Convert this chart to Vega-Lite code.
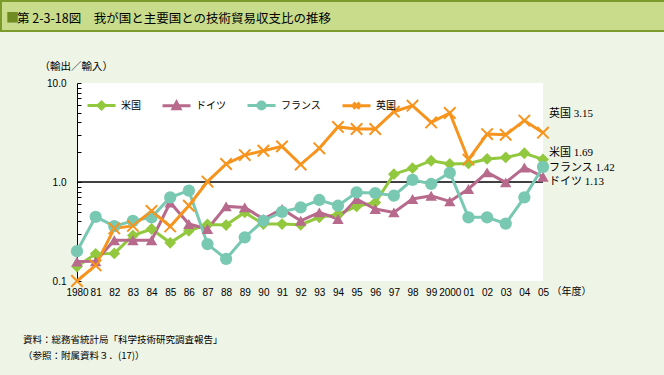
{
  "$schema": "https://vega.github.io/schema/vega-lite/v6.json",
  "background": "#EEF4E6",
  "padding": {"left": 0, "top": 0, "right": 0, "bottom": 30},
  "spacing": 29,
  "config": {"view": {"stroke": null}, "font": "Noto Sans CJK JP", "concat": {"spacing": 0}, "axisX": {"labelOverlap": false, "labelFlush": false}},
  "datasets": {
    "d": [
      {"year": 1980, "country": "米国", "value": 0.14}, {"year": 1980, "country": "ドイツ", "value": 0.157}, {"year": 1980, "country": "フランス", "value": 0.2}, {"year": 1980, "country": "英国", "value": 0.1},
      {"year": 1981, "country": "米国", "value": 0.188}, {"year": 1981, "country": "ドイツ", "value": 0.158}, {"year": 1981, "country": "フランス", "value": 0.445}, {"year": 1981, "country": "英国", "value": 0.144},
      {"year": 1982, "country": "米国", "value": 0.19}, {"year": 1982, "country": "ドイツ", "value": 0.258}, {"year": 1982, "country": "フランス", "value": 0.358}, {"year": 1982, "country": "英国", "value": 0.34},
      {"year": 1983, "country": "米国", "value": 0.288}, {"year": 1983, "country": "ドイツ", "value": 0.258}, {"year": 1983, "country": "フランス", "value": 0.405}, {"year": 1983, "country": "英国", "value": 0.36},
      {"year": 1984, "country": "米国", "value": 0.335}, {"year": 1984, "country": "ドイツ", "value": 0.258}, {"year": 1984, "country": "フランス", "value": 0.44}, {"year": 1984, "country": "英国", "value": 0.51},
      {"year": 1985, "country": "米国", "value": 0.243}, {"year": 1985, "country": "ドイツ", "value": 0.62}, {"year": 1985, "country": "フランス", "value": 0.70}, {"year": 1985, "country": "英国", "value": 0.356},
      {"year": 1986, "country": "米国", "value": 0.322}, {"year": 1986, "country": "ドイツ", "value": 0.376}, {"year": 1986, "country": "フランス", "value": 0.817}, {"year": 1986, "country": "英国", "value": 0.576},
      {"year": 1987, "country": "米国", "value": 0.372}, {"year": 1987, "country": "ドイツ", "value": 0.335}, {"year": 1987, "country": "フランス", "value": 0.236}, {"year": 1987, "country": "英国", "value": 1.01},
      {"year": 1988, "country": "米国", "value": 0.367}, {"year": 1988, "country": "ドイツ", "value": 0.567}, {"year": 1988, "country": "フランス", "value": 0.167}, {"year": 1988, "country": "英国", "value": 1.52},
      {"year": 1989, "country": "米国", "value": 0.493}, {"year": 1989, "country": "ドイツ", "value": 0.554}, {"year": 1989, "country": "フランス", "value": 0.276}, {"year": 1989, "country": "英国", "value": 1.87},
      {"year": 1990, "country": "米国", "value": 0.376}, {"year": 1990, "country": "ドイツ", "value": 0.423}, {"year": 1990, "country": "フランス", "value": 0.406}, {"year": 1990, "country": "英国", "value": 2.07},
      {"year": 1991, "country": "米国", "value": 0.376}, {"year": 1991, "country": "ドイツ", "value": 0.533}, {"year": 1991, "country": "フランス", "value": 0.5}, {"year": 1991, "country": "英国", "value": 2.29},
      {"year": 1992, "country": "米国", "value": 0.37}, {"year": 1992, "country": "ドイツ", "value": 0.406}, {"year": 1992, "country": "フランス", "value": 0.554}, {"year": 1992, "country": "英国", "value": 1.5},
      {"year": 1993, "country": "米国", "value": 0.44}, {"year": 1993, "country": "ドイツ", "value": 0.493}, {"year": 1993, "country": "フランス", "value": 0.658}, {"year": 1993, "country": "英国", "value": 2.19},
      {"year": 1994, "country": "米国", "value": 0.47}, {"year": 1994, "country": "ドイツ", "value": 0.423}, {"year": 1994, "country": "フランス", "value": 0.576}, {"year": 1994, "country": "英国", "value": 3.6},
      {"year": 1995, "country": "米国", "value": 0.567}, {"year": 1995, "country": "ドイツ", "value": 0.673}, {"year": 1995, "country": "フランス", "value": 0.785}, {"year": 1995, "country": "英国", "value": 3.43},
      {"year": 1996, "country": "米国", "value": 0.62}, {"year": 1996, "country": "ドイツ", "value": 0.533}, {"year": 1996, "country": "フランス", "value": 0.774}, {"year": 1996, "country": "英国", "value": 3.43},
      {"year": 1997, "country": "米国", "value": 1.2}, {"year": 1997, "country": "ドイツ", "value": 0.493}, {"year": 1997, "country": "フランス", "value": 0.727}, {"year": 1997, "country": "英国", "value": 5.13},
      {"year": 1998, "country": "米国", "value": 1.38}, {"year": 1998, "country": "ドイツ", "value": 0.673}, {"year": 1998, "country": "フランス", "value": 1.05}, {"year": 1998, "country": "英国", "value": 5.9},
      {"year": 1999, "country": "米国", "value": 1.64}, {"year": 1999, "country": "ドイツ", "value": 0.727}, {"year": 1999, "country": "フランス", "value": 0.955}, {"year": 1999, "country": "英国", "value": 4.0},
      {"year": 2000, "country": "米国", "value": 1.52}, {"year": 2000, "country": "ドイツ", "value": 0.637}, {"year": 2000, "country": "フランス", "value": 1.24}, {"year": 2000, "country": "英国", "value": 4.98},
      {"year": 2001, "country": "米国", "value": 1.54}, {"year": 2001, "country": "ドイツ", "value": 0.85}, {"year": 2001, "country": "フランス", "value": 0.44}, {"year": 2001, "country": "英国", "value": 1.68},
      {"year": 2002, "country": "米国", "value": 1.71}, {"year": 2002, "country": "ドイツ", "value": 1.25}, {"year": 2002, "country": "フランス", "value": 0.44}, {"year": 2002, "country": "英国", "value": 3.05},
      {"year": 2003, "country": "米国", "value": 1.77}, {"year": 2003, "country": "ドイツ", "value": 0.99}, {"year": 2003, "country": "フランス", "value": 0.38}, {"year": 2003, "country": "英国", "value": 3.0},
      {"year": 2004, "country": "米国", "value": 1.95}, {"year": 2004, "country": "ドイツ", "value": 1.4}, {"year": 2004, "country": "フランス", "value": 0.7}, {"year": 2004, "country": "英国", "value": 4.17},
      {"year": 2005, "country": "米国", "value": 1.69}, {"year": 2005, "country": "ドイツ", "value": 1.13}, {"year": 2005, "country": "フランス", "value": 1.42}, {"year": 2005, "country": "英国", "value": 3.15}
    ]
  },
  "vconcat": [
    {
      "width": 664,
      "height": 30,
      "view": {"fill": "#C8DC8C", "stroke": "#7C9B2C", "strokeWidth": 2},
      "data": {"values": [{"t": "■"}]},
      "mark": {"type": "text", "align": "left", "baseline": "middle", "dx": -327, "dy": 2, "fontSize": 13, "color": "#6E8C22"},
      "encoding": {"text": {"field": "t"}},
      "title": {"text": "第 2-3-18図　我が国と主要国との技術貿易収支比の推移", "anchor": "start", "frame": "group", "offset": -24, "dx": 16, "fontSize": 12.5, "fontWeight": "normal", "color": "#000000"}
    },
    {
      "hconcat": [
        {"width": 22, "height": 10, "data": {"values": []}, "mark": "point"},
        {
          "width": 466,
          "height": 198,
          "view": {"fill": "#FFFFFF", "stroke": null},
          "data": {"name": "d"},
          "title": {"text": ["資料：総務省統計局「科学技術研究調査報告」", "（参照：附属資料３．(17)）"], "orient": "bottom", "anchor": "start", "frame": "group", "dx": -54, "offset": 38, "fontSize": 9.5, "fontWeight": "normal", "lineHeight": 16, "color": "#000000"},
          "layer": [
            {
              "data": {"values": [{}]},
              "mark": {"type": "rule", "color": "#000000", "strokeWidth": 1.3},
              "encoding": {
                "y": {"datum": 1, "type": "quantitative", "scale": {"type": "log", "domain": [0.1, 10], "nice": false}, "axis": null}
              }
            },
            {
              "mark": {"type": "line", "strokeWidth": 3},
              "encoding": {
                "x": {"field": "year", "type": "quantitative", "scale": {"domain": [1980, 2005], "nice": false, "zero": false},
                  "axis": {"values": [1980, 1981, 1982, 1983, 1984, 1985, 1986, 1987, 1988, 1989, 1990, 1991, 1992, 1993, 1994, 1995, 1996, 1997, 1998, 1999, 2000, 2001, 2002, 2003, 2004, 2005], "labelExpr": "(datum.value == 1980 || datum.value == 2000) ? ('' + datum.value) : ((datum.value % 100 < 10 ? '0' : '') + (datum.value % 100))", "ticks": false, "domain": false, "grid": false, "labelOverlap": false, "labelFlush": false, "labelPadding": 6, "labelFont": "Liberation Sans", "labelFontSize": 10, "labelColor": "#000000", "title": "（年度）", "titleX": 474, "titleY": 10, "titleAlign": "left", "titleBaseline": "middle", "titleFontSize": 10, "titleFontWeight": "normal", "titleColor": "#000000"}},
                "y": {"field": "value", "type": "quantitative", "scale": {"type": "log", "domain": [0.1, 10], "nice": false},
                  "axis": {"orient": "left", "values": [0.1, 0.2, 0.3, 0.4, 0.5, 0.6, 0.7, 0.8, 0.9, 1, 2, 3, 4, 5, 6, 7, 8, 9, 10],
                    "labelExpr": "(datum.value == 0.1 || datum.value == 1 || datum.value == 10) ? format(datum.value, '.1f') : ''",
                    "ticks": true, "tickSize": -4, "tickColor": "#000000", "tickWidth": 1, "domain": true, "domainColor": "#000000", "domainWidth": 1, "grid": false, "labelPadding": 15, "labelFont": "Liberation Sans", "labelFontSize": 10, "labelColor": "#000000", "labelOverlap": false,
                    "title": "（輸出／輸入）", "titleAngle": 0, "titleX": -38, "titleY": -17, "titleAlign": "left", "titleBaseline": "middle", "titleFontSize": 10.5, "titleFontWeight": "normal", "titleColor": "#000000"}},
                "color": {"field": "country", "type": "nominal",
                  "scale": {"domain": ["米国", "ドイツ", "フランス", "英国"], "range": ["#92C83E", "#B76A8C", "#78C8B2", "#F7941E"]},
                  "legend": {"orient": "none", "legendX": 85, "legendY": 89, "direction": "horizontal", "title": null, "labelFontSize": 10, "labelColor": "#000000", "columnPadding": 15, "labelOffset": 4, "symbolSize": 784, "symbolType": "M-1,0L1,0", "symbolStrokeWidth": 3,
                    "encode": {"symbols": {"update": {
                      "shape": {"signal": "datum.value === '米国' ? 'M-1,0L1,0M-0.25,0L0,-0.25L0.25,0L0,0.25Z' : datum.value === 'ドイツ' ? 'M-1,0L1,0M-0.25,0.22L0,-0.25L0.25,0.22Z' : datum.value === 'フランス' ? 'M-1,0L1,0M-0.25,0A0.25,0.25 0 1,0 0.25,0A0.25,0.25 0 1,0 -0.25,0Z' : 'M-1,0L1,0M-0.22,-0.22L0.22,0.22M-0.22,0.22L0.22,-0.22'"},
                      "fill": {"signal": "scale('color', datum.value)"},
                      "stroke": {"signal": "scale('color', datum.value)"},
                      "strokeWidth": {"value": 3},
                      "opacity": {"value": 1}
                    }}}}
                }
              }
            },
            {
              "transform": [{"filter": "datum.country == '米国'"}],
              "mark": {"type": "point", "shape": "diamond", "filled": true, "size": 140, "opacity": 1},
              "encoding": {
                "x": {"field": "year", "type": "quantitative", "scale": {"domain": [1980, 2005], "nice": false, "zero": false},
                  "axis": {"values": [1980, 1981, 1982, 1983, 1984, 1985, 1986, 1987, 1988, 1989, 1990, 1991, 1992, 1993, 1994, 1995, 1996, 1997, 1998, 1999, 2000, 2001, 2002, 2003, 2004, 2005], "labelExpr": "(datum.value == 1980 || datum.value == 2000) ? ('' + datum.value) : ((datum.value % 100 < 10 ? '0' : '') + (datum.value % 100))", "ticks": false, "domain": false, "grid": false, "labelOverlap": false, "labelFlush": false, "labelPadding": 6, "labelFont": "Liberation Sans", "labelFontSize": 10, "labelColor": "#000000", "title": "（年度）", "titleX": 474, "titleY": 10, "titleAlign": "left", "titleBaseline": "middle", "titleFontSize": 10, "titleFontWeight": "normal", "titleColor": "#000000"}},
                "y": {"field": "value", "type": "quantitative", "axis": null},
                "color": {"field": "country", "type": "nominal", "legend": null}
              }
            },
            {
              "transform": [{"filter": "datum.country == 'ドイツ'"}],
              "mark": {"type": "point", "shape": "triangle-up", "filled": true, "size": 130, "opacity": 1},
              "encoding": {
                "x": {"field": "year", "type": "quantitative", "scale": {"domain": [1980, 2005], "nice": false, "zero": false},
                  "axis": {"values": [1980, 1981, 1982, 1983, 1984, 1985, 1986, 1987, 1988, 1989, 1990, 1991, 1992, 1993, 1994, 1995, 1996, 1997, 1998, 1999, 2000, 2001, 2002, 2003, 2004, 2005], "labelExpr": "(datum.value == 1980 || datum.value == 2000) ? ('' + datum.value) : ((datum.value % 100 < 10 ? '0' : '') + (datum.value % 100))", "ticks": false, "domain": false, "grid": false, "labelOverlap": false, "labelFlush": false, "labelPadding": 6, "labelFont": "Liberation Sans", "labelFontSize": 10, "labelColor": "#000000", "title": "（年度）", "titleX": 474, "titleY": 10, "titleAlign": "left", "titleBaseline": "middle", "titleFontSize": 10, "titleFontWeight": "normal", "titleColor": "#000000"}},
                "y": {"field": "value", "type": "quantitative", "axis": null},
                "color": {"field": "country", "type": "nominal", "legend": null}
              }
            },
            {
              "transform": [{"filter": "datum.country == 'フランス'"}],
              "mark": {"type": "point", "shape": "circle", "filled": true, "size": 150, "opacity": 1},
              "encoding": {
                "x": {"field": "year", "type": "quantitative", "scale": {"domain": [1980, 2005], "nice": false, "zero": false},
                  "axis": {"values": [1980, 1981, 1982, 1983, 1984, 1985, 1986, 1987, 1988, 1989, 1990, 1991, 1992, 1993, 1994, 1995, 1996, 1997, 1998, 1999, 2000, 2001, 2002, 2003, 2004, 2005], "labelExpr": "(datum.value == 1980 || datum.value == 2000) ? ('' + datum.value) : ((datum.value % 100 < 10 ? '0' : '') + (datum.value % 100))", "ticks": false, "domain": false, "grid": false, "labelOverlap": false, "labelFlush": false, "labelPadding": 6, "labelFont": "Liberation Sans", "labelFontSize": 10, "labelColor": "#000000", "title": "（年度）", "titleX": 474, "titleY": 10, "titleAlign": "left", "titleBaseline": "middle", "titleFontSize": 10, "titleFontWeight": "normal", "titleColor": "#000000"}},
                "y": {"field": "value", "type": "quantitative", "axis": null},
                "color": {"field": "country", "type": "nominal", "legend": null}
              }
            },
            {
              "transform": [{"filter": "datum.country == '英国'"}],
              "mark": {"type": "point", "shape": "M-1,-1L1,1M-1,1L1,-1", "filled": false, "size": 130, "opacity": 1, "strokeWidth": 2},
              "encoding": {
                "x": {"field": "year", "type": "quantitative", "scale": {"domain": [1980, 2005], "nice": false, "zero": false},
                  "axis": {"values": [1980, 1981, 1982, 1983, 1984, 1985, 1986, 1987, 1988, 1989, 1990, 1991, 1992, 1993, 1994, 1995, 1996, 1997, 1998, 1999, 2000, 2001, 2002, 2003, 2004, 2005], "labelExpr": "(datum.value == 1980 || datum.value == 2000) ? ('' + datum.value) : ((datum.value % 100 < 10 ? '0' : '') + (datum.value % 100))", "ticks": false, "domain": false, "grid": false, "labelOverlap": false, "labelFlush": false, "labelPadding": 6, "labelFont": "Liberation Sans", "labelFontSize": 10, "labelColor": "#000000", "title": "（年度）", "titleX": 474, "titleY": 10, "titleAlign": "left", "titleBaseline": "middle", "titleFontSize": 10, "titleFontWeight": "normal", "titleColor": "#000000"}},
                "y": {"field": "value", "type": "quantitative", "axis": null},
                "color": {"field": "country", "type": "nominal", "legend": null}
              }
            },
            {
              "transform": [{"filter": "datum.year == 2005"}, {"calculate": "datum.country + ' ' + format(datum.value, '.2f')", "as": "lab"}, {"filter": "datum.country == '英国'"}],
              "mark": {"type": "text", "align": "left", "baseline": "middle", "dx": 6, "dy": -19, "fontSize": 11, "font": "Liberation Serif, Noto Sans CJK JP", "color": "#000000"},
              "encoding": {
                "x": {"field": "year", "type": "quantitative", "scale": {"domain": [1980, 2005], "nice": false, "zero": false},
                  "axis": {"values": [1980, 1981, 1982, 1983, 1984, 1985, 1986, 1987, 1988, 1989, 1990, 1991, 1992, 1993, 1994, 1995, 1996, 1997, 1998, 1999, 2000, 2001, 2002, 2003, 2004, 2005], "labelExpr": "(datum.value == 1980 || datum.value == 2000) ? ('' + datum.value) : ((datum.value % 100 < 10 ? '0' : '') + (datum.value % 100))", "ticks": false, "domain": false, "grid": false, "labelOverlap": false, "labelFlush": false, "labelPadding": 6, "labelFont": "Liberation Sans", "labelFontSize": 10, "labelColor": "#000000", "title": "（年度）", "titleX": 474, "titleY": 10, "titleAlign": "left", "titleBaseline": "middle", "titleFontSize": 10, "titleFontWeight": "normal", "titleColor": "#000000"}},
                "y": {"field": "value", "type": "quantitative", "axis": null}, "text": {"field": "lab"}}
            },
            {
              "transform": [{"filter": "datum.year == 2005"}, {"calculate": "datum.country + ' ' + format(datum.value, '.2f')", "as": "lab"}, {"filter": "datum.country == '米国'"}],
              "mark": {"type": "text", "align": "left", "baseline": "middle", "dx": 6, "dy": -6, "fontSize": 11, "font": "Liberation Serif, Noto Sans CJK JP", "color": "#000000"},
              "encoding": {
                "x": {"field": "year", "type": "quantitative", "scale": {"domain": [1980, 2005], "nice": false, "zero": false},
                  "axis": {"values": [1980, 1981, 1982, 1983, 1984, 1985, 1986, 1987, 1988, 1989, 1990, 1991, 1992, 1993, 1994, 1995, 1996, 1997, 1998, 1999, 2000, 2001, 2002, 2003, 2004, 2005], "labelExpr": "(datum.value == 1980 || datum.value == 2000) ? ('' + datum.value) : ((datum.value % 100 < 10 ? '0' : '') + (datum.value % 100))", "ticks": false, "domain": false, "grid": false, "labelOverlap": false, "labelFlush": false, "labelPadding": 6, "labelFont": "Liberation Sans", "labelFontSize": 10, "labelColor": "#000000", "title": "（年度）", "titleX": 474, "titleY": 10, "titleAlign": "left", "titleBaseline": "middle", "titleFontSize": 10, "titleFontWeight": "normal", "titleColor": "#000000"}},
                "y": {"field": "value", "type": "quantitative", "axis": null}, "text": {"field": "lab"}}
            },
            {
              "transform": [{"filter": "datum.year == 2005"}, {"calculate": "datum.country + ' ' + format(datum.value, '.2f')", "as": "lab"}, {"filter": "datum.country == 'フランス'"}],
              "mark": {"type": "text", "align": "left", "baseline": "middle", "dx": 6, "dy": 1.5, "fontSize": 11, "font": "Liberation Serif, Noto Sans CJK JP", "color": "#000000"},
              "encoding": {
                "x": {"field": "year", "type": "quantitative", "scale": {"domain": [1980, 2005], "nice": false, "zero": false},
                  "axis": {"values": [1980, 1981, 1982, 1983, 1984, 1985, 1986, 1987, 1988, 1989, 1990, 1991, 1992, 1993, 1994, 1995, 1996, 1997, 1998, 1999, 2000, 2001, 2002, 2003, 2004, 2005], "labelExpr": "(datum.value == 1980 || datum.value == 2000) ? ('' + datum.value) : ((datum.value % 100 < 10 ? '0' : '') + (datum.value % 100))", "ticks": false, "domain": false, "grid": false, "labelOverlap": false, "labelFlush": false, "labelPadding": 6, "labelFont": "Liberation Sans", "labelFontSize": 10, "labelColor": "#000000", "title": "（年度）", "titleX": 474, "titleY": 10, "titleAlign": "left", "titleBaseline": "middle", "titleFontSize": 10, "titleFontWeight": "normal", "titleColor": "#000000"}},
                "y": {"field": "value", "type": "quantitative", "axis": null}, "text": {"field": "lab"}}
            },
            {
              "transform": [{"filter": "datum.year == 2005"}, {"calculate": "datum.country + ' ' + format(datum.value, '.2f')", "as": "lab"}, {"filter": "datum.country == 'ドイツ'"}],
              "mark": {"type": "text", "align": "left", "baseline": "middle", "dx": 6, "dy": 5.5, "fontSize": 11, "font": "Liberation Serif, Noto Sans CJK JP", "color": "#000000"},
              "encoding": {
                "x": {"field": "year", "type": "quantitative", "scale": {"domain": [1980, 2005], "nice": false, "zero": false},
                  "axis": {"values": [1980, 1981, 1982, 1983, 1984, 1985, 1986, 1987, 1988, 1989, 1990, 1991, 1992, 1993, 1994, 1995, 1996, 1997, 1998, 1999, 2000, 2001, 2002, 2003, 2004, 2005], "labelExpr": "(datum.value == 1980 || datum.value == 2000) ? ('' + datum.value) : ((datum.value % 100 < 10 ? '0' : '') + (datum.value % 100))", "ticks": false, "domain": false, "grid": false, "labelOverlap": false, "labelFlush": false, "labelPadding": 6, "labelFont": "Liberation Sans", "labelFontSize": 10, "labelColor": "#000000", "title": "（年度）", "titleX": 474, "titleY": 10, "titleAlign": "left", "titleBaseline": "middle", "titleFontSize": 10, "titleFontWeight": "normal", "titleColor": "#000000"}},
                "y": {"field": "value", "type": "quantitative", "axis": null}, "text": {"field": "lab"}}
            }
          ],
          "resolve": {"axis": {"y": "independent"}}
        }
      ]
    }
  ]
}
